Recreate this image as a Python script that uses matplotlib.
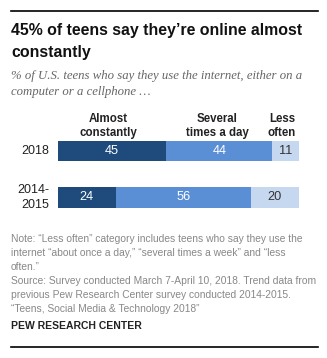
import numpy as np
import matplotlib.pyplot as plt

# data
years = ['2018', '2014-\n2015']
almost = [45, 24]
several = [44, 56]
less = [11, 20]
categories = ['Almost\nconstantly', 'Several\ntimes a day', 'Less\noften']
colors = ['#1f4a7c', '#5a8fd5', '#c6d8ef']
txtcolors = ['white', 'white', '#333333']

W, H = 327, 358
fig = plt.figure(figsize=(W / 100, H / 100), dpi=100)
fig.patch.set_facecolor('white')

def px(x, y):
  return x / W, 1 - y / H

# top and bottom rules
fig.add_artist(plt.Line2D([11 / W, 318 / W], [1 - 11 / H, 1 - 11 / H], color='black', lw=1.2))
fig.add_artist(plt.Line2D([11 / W, 318 / W], [1 - 347 / H, 1 - 347 / H], color='black', lw=1.2))

# titulo
fig.text(*px(11, 41.5), "45% of teens say they\u2019re online almost\nconstantly",
         fontsize=11.4, weight='bold', family='Liberation Sans', va='center', ha='left',
         linespacing=1.5, color='#111111')
fig.text(*px(11, 84), "% of U.S. teens who say they use the internet, either on a\ncomputer or a cellphone \u2026",
         fontsize=9.2, style='italic', family='Liberation Serif', va='center', ha='left',
         linespacing=1.45, color='#666666')

# barras
ax = fig.add_axes([58 / W, 1 - 220.75 / H, (299 - 58) / W, (220.75 - 127.75) / H])
y = np.arange(len(years))
series = [almost, several, less]
left = np.zeros(len(years))
for i, vals in enumerate(series):
  ax.barh(y, vals, left=left, height=0.45, color=colors[i], edgecolor='none')
  for j, v in enumerate(vals):
    ax.text(left[j] + v / 2, y[j], str(v), ha='center', va='center',
            color=txtcolors[i], fontsize=9.2, family='Liberation Sans')
  left = left + np.array(vals)
ax.set_xlim(0, 100)
ax.set_ylim(1.5, -0.5)
ax.axis('off')

# rotulos dos anos
for j, lab in enumerate(years):
  ax.text(-3.5, y[j], lab, ha='right', va='center', fontsize=9,
          family='Liberation Sans', color='#222222', linespacing=1.25)

# cabecalhos das colunas
hx = [108, 217, 282]
for k, lab in enumerate(categories):
  fig.text(*px(hx[k], 126), lab, ha='center', va='center', fontsize=8.3,
           weight='bold', family='Liberation Sans', color='#222222', linespacing=1.3)

nota = ('Note: \u201cLess often\u201d category includes teens who say they use the\n'
        'internet \u201cabout once a day,\u201d \u201cseveral times a week\u201d and \u201cless\n'
        'often.\u201d\n'
        'Source: Survey conducted March 7-April 10, 2018. Trend data from\n'
        'previous Pew Research Center survey conducted 2014-2015.\n'
        '\u201cTeens, Social Media & Technology 2018\u201d')
fig.text(*px(11, 274), nota, ha='left', va='center', fontsize=7.4,
         family='Liberation Sans', color='#888888', linespacing=1.5)
fig.text(*px(11, 326), 'PEW RESEARCH CENTER', ha='left', va='center', fontsize=7.5,
         weight='bold', family='Liberation Sans', color='#222222')

fig.savefig('out.png', dpi=100, facecolor='white')
